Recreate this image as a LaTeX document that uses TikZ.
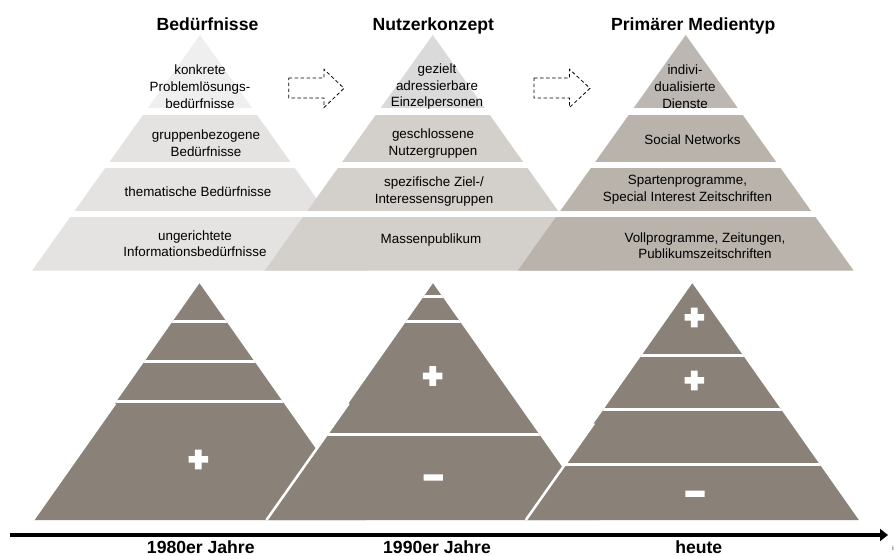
\documentclass[tikz,border=0pt]{standalone}
\usepackage{fontspec}
\setmainfont{Liberation Sans}
\newfontfamily\signfont[FakeBold=9]{Liberation Sans Bold}
\usetikzlibrary{arrows.meta}
\definecolor{aTop}{HTML}{EFEFEF}
\definecolor{aBand}{HTML}{E4E3E1}
\definecolor{bTop}{HTML}{DADADA}
\definecolor{bBand}{HTML}{D3CFCA}
\definecolor{cTop}{HTML}{BCB7B2}
\definecolor{cBand}{HTML}{B9B3AC}
\definecolor{botc}{HTML}{8A8279}
\newcommand{\TopPyr}[3]{%
  \begin{scope}
    \clip (#1,35) -- ({#1+168},270.7) -- ({#1-168},270.7) -- cycle;
    \fill[#2] ({#1-170},30) rectangle ({#1+170},108.3);
    \fill[#3] ({#1-170},115) rectangle ({#1+170},162.3);
    \fill[#3] ({#1-170},167.7) rectangle ({#1+170},211);
    \fill[#3] ({#1-170},216.7) rectangle ({#1+170},270.7);
  \end{scope}}
\newcommand{\BotPyr}[5]{%
  \begin{scope}
    \clip (#1,283.3) -- ({#1+166.5},520) -- ({#1-166.5},520) -- cycle;
    \fill[botc] ({#1-170},280) rectangle ({#1+170},521);
    \foreach \yy in {#2,#3,#4} \draw[sepline] ({#1-170},\yy) -- ({#1+170},\yy);
  \end{scope}
  \draw[white, line width=2.5pt] ({#1-0.7025*#5},{283.3+#5}) -- ({#1-166.5},520);}
\begin{document}
\begin{tikzpicture}[x=1pt,y=-1pt,
  body/.style={font=\fontsize{13.4}{16.7}\selectfont, align=center, inner sep=0pt, text=black},
  ttl/.style={font=\fontsize{17.6}{20}\selectfont\bfseries, anchor=base, inner sep=0pt, text=black},
  sign/.style={font=\fontsize{33}{33}\selectfont\signfont, text=white, inner sep=0pt},
  darrow/.style={draw=black, dash pattern=on 3.5pt off 2.5pt, line width=0.8pt},
  sepline/.style={white, line width=3pt}]
\useasboundingbox (0,0) rectangle (896,556);
\fill[white] (0,0) rectangle (896,556);

% top pyramids
\TopPyr{200}{aTop}{aBand}
\TopPyr{432.7}{bTop}{bBand}
\TopPyr{685.7}{cTop}{cBand}

% titles
\node[ttl] (t1) at (207.5,30.5) {Bedürfnisse};
\node[ttl] (t2) at (433.3,30.5) {Nutzerkonzept};
\node[ttl] (t3) at (693.3,30.5) {Primärer Medientyp};

% texts pyramid 1
\node[body] (a1) at (200,86.7) {konkrete\\Problemlösungs-\\bedürfnisse};
\node[body] (a2) at (206,143.3) {gruppenbezogene\\Bedürfnisse};
\node[body] (a3) at (198,191.7) {thematische Bedürfnisse};
\node[body] (a4) at (195,243.7) {ungerichtete\\Informationsbedürfnisse};
% texts pyramid 2
\node[body] (b1) at (437,86.7) {gezielt\\adressierbare\\Einzelpersonen};
\node[body] (b2) at (433,143.3) {geschlossene\\Nutzergruppen};
\node[body] (b3) at (434,191.7) {spezifische Ziel-/\\Interessensgruppen};
\node[body] (b4) at (431,240) {Massenpublikum};
% texts pyramid 3
\node[body] (c1) at (685,86.7) {indivi-\\dualisierte\\Dienste};
\node[body] (c2) at (692.5,140) {Social Networks};
\node[body] (c3) at (687.5,190) {Spartenprogramme,\\Special Interest Zeitschriften};
\node[body] (c4) at (705,245.7) {Vollprogramme, Zeitungen,\\Publikumszeitschriften};

% dashed block arrows
\draw[darrow] (288.7,78) -- (324,78) -- (324,69.3) -- (344,88.3) -- (324,107.5) -- (324,98) -- (288.7,98) -- cycle;
\draw[darrow] (534,78) -- (569.5,78) -- (569.5,69.3) -- (590,88.3) -- (569.5,107.5) -- (569.5,98) -- (534,98) -- cycle;

% bottom pyramids
\BotPyr{199.5}{321}{361}{401.5}{120}
\BotPyr{433}{296.7}{321}{434}{120}
\BotPyr{692.3}{355}{409.5}{464.5}{140}

% signs
\node[sign] (s1) at (198.3,460.7) {+};
\node[sign] (s2) at (432.7,377.3) {+};
\node[sign] (s3) at (433.3,476.7) {\vphantom{+}–};
\node[sign] (s4) at (694.3,318.7) {+};
\node[sign] (s5) at (694.3,381.7) {+};
\node[sign] (s6) at (695,493) {\vphantom{+}–};

% time axis
\coordinate (ax0) at (10,535);
\coordinate (ax1) at (888,535);
\draw[line width=3.2pt, -{Triangle[length=8pt,width=12pt]}] (ax0) -- (ax1);
\node[ttl] (y1) at (200.8,553) {1980er Jahre};
\node[ttl] (y2) at (437,553) {1990er Jahre};
\node[ttl] (y3) at (698.8,553) {heute};
\node[font=\fontsize{6}{6}\selectfont, inner sep=0pt] (stray) at (893,548) {i};
\end{tikzpicture}
\end{document}
